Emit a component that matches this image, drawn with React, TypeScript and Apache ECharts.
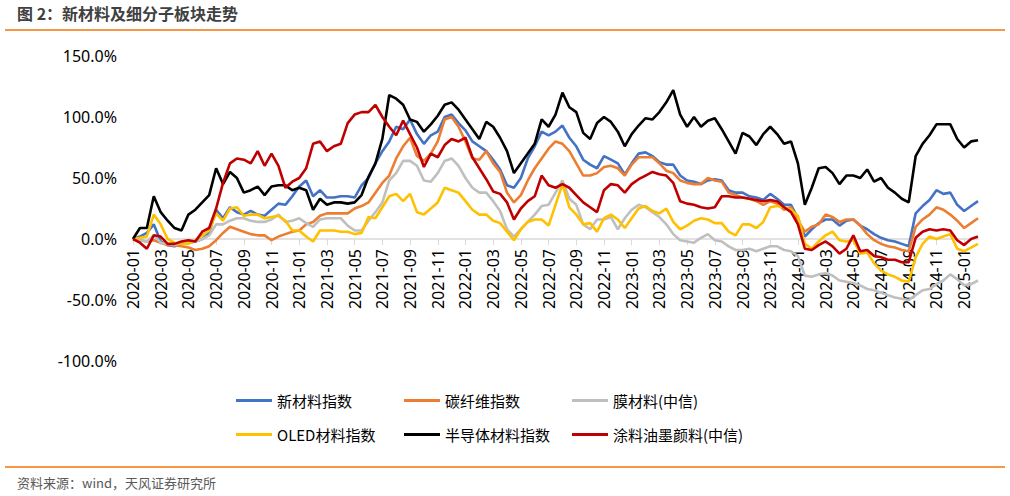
import React, { useEffect, useRef } from "react";
import * as echarts from "echarts";

// semi-monthly sample dates 2020-01-01 .. 2025-02-01
const categories: string[] = [];
for (let i = 0; i < 123; i++) {
  const y = 2020 + Math.floor(i / 24);
  const m = Math.floor((i % 24) / 2) + 1;
  const d = i % 2 === 0 ? "01" : "16";
  categories.push(`${y}-${m < 10 ? "0" + m : m}-${d}`);
}

const seriesNames = ["新材料指数", "碳纤维指数", "膜材料(中信)", "OLED材料指数", "半导体材料指数", "涂料油墨颜料(中信)"];
const seriesColors = ["#4472C4", "#ED7D31", "#BFBFBF", "#FFC000", "#000000", "#C00000"];

const newMaterial = [
  0, 2, 5, 12, -2, -5, -6, -4, -3, -2, 0, 5, 24, 17, 26, 22, 20, 23, 20, 19, 24, 29, 28, 35, 43, 48, 35, 40, 34, 34, 35,
  35, 34, 44, 50, 62, 72, 80, 92, 90, 98, 86, 78, 85, 88, 100, 102, 95, 89, 80, 76, 72, 65, 57, 44, 42, 50, 66, 76, 88, 85, 88,
  93, 83, 76, 65, 61, 58, 68, 65, 62, 53, 62, 70, 71, 68, 63, 61, 61, 52, 48, 47, 45, 48, 49, 48, 40, 38, 38, 35, 34, 32, 37,
  33, 28, 28, 17, 2, 8, 13, 16, 16, 11, 15, 16, 11, 8, 4, 1, -1, -2, -4, -6, 21, 27, 32, 40, 37, 38, 28, 23, 27, 31,
];
const carbonFiber = [
  0, -1, -2, -1, -3, -5, -5, -6, -7, -9, -8, -6, -1, 5, 10, 8, 6, 4, 3, 3, -1, 2, 4, 6, 7, 12, 14, 19, 21, 21, 21,
  21, 25, 27, 30, 38, 46, 52, 66, 76, 83, 68, 64, 70, 80, 98, 100, 92, 80, 66, 65, 72, 62, 55, 38, 30, 36, 48, 58, 66, 74, 80,
  78, 72, 62, 52, 52, 54, 59, 60, 58, 52, 61, 67, 67, 67, 62, 56, 54, 48, 46, 45, 45, 50, 48, 47, 38, 36, 34, 33, 31, 28, 31,
  29, 24, 26, 15, 6, 10, 12, 20, 18, 14, 16, 16, 11, 4, -1, -4, -6, -7, -9, -10, 10, 16, 20, 26, 24, 20, 15, 9, 13, 17,
];
const membrane = [
  0, -1, -2, 3, -3, -4, -5, -3, -3, -2, 0, 3, 12, 12, 15, 17, 17, 15, 14, 14, 16, 20, 14, 15, 17, 13, 10, 16, 17, 17, 17,
  11, 7, 7, 15, 22, 30, 48, 54, 64, 64, 60, 48, 47, 54, 64, 66, 60, 50, 42, 38, 38, 31, 23, 8, 2, 8, 14, 20, 27, 28, 38,
  48, 33, 28, 12, 8, 16, 16, 18, 8, 17, 24, 28, 26, 22, 18, 12, 4, -1, -2, -3, 1, 4, -1, -2, -6, -9, -9, -8, -10, -8, -6,
  -6, -9, -10, -14, -30, -31, -29, -28, -30, -34, -35, -36, -38, -41, -42, -44, -46, -48, -49, -50, -46, -42, -41, -37, -34, -29, -33, -38, -37, -34,
];
const oled = [
  0, 1, 2, 20, 12, 0, -3, -4, -4, -1, 3, 7, 21, 15, 25, 26, 19, 20, 20, 17, 18, 19, 15, 7, 7, 2, -2, 7, 7, 7, 6,
  6, 4, 5, 18, 17, 26, 35, 37, 31, 37, 22, 20, 25, 30, 42, 40, 38, 31, 24, 20, 20, 15, 13, 6, -1, 8, 14, 16, 16, 11, 28,
  45, 26, 20, 12, 13, 6, 17, 20, 16, 9, 17, 25, 27, 23, 21, 25, 14, 8, 11, 15, 17, 16, 13, 13, 6, 3, 12, 12, 9, 14, 26,
  27, 26, 24, 19, -4, -8, -2, 3, 6, -1, -2, -1, -12, -11, -20, -26, -29, -31, -34, -35, -15, -4, 2, 0, 2, 4, -8, -10, -7, -4,
];
const semiconductor = [
  0, 9, 9, 35, 22, 15, 9, 7, 20, 24, 30, 36, 58, 45, 55, 50, 38, 40, 43, 36, 43, 44, 44, 40, 42, 40, 24, 33, 28, 30, 30,
  29, 30, 36, 51, 62, 82, 118, 115, 110, 98, 96, 88, 94, 101, 110, 112, 106, 98, 90, 82, 96, 92, 83, 72, 54, 62, 70, 78, 98, 92, 102,
  120, 108, 104, 87, 82, 95, 100, 96, 88, 76, 86, 93, 99, 98, 104, 112, 122, 102, 92, 100, 92, 97, 99, 90, 80, 70, 87, 84, 77, 86, 92,
  86, 78, 80, 62, 28, 42, 58, 59, 54, 45, 52, 52, 50, 57, 47, 50, 42, 38, 33, 30, 68, 78, 85, 94, 94, 94, 82, 75, 80, 81,
];
const coating = [
  0, -3, -8, 3, 2, -4, -4, -2, -1, -2, 6, 9, 25, 46, 62, 66, 65, 62, 72, 60, 70, 60, 42, 47, 50, 58, 78, 80, 72, 76, 78,
  95, 102, 104, 104, 110, 100, 92, 85, 97, 86, 75, 59, 70, 67, 77, 82, 80, 83, 67, 58, 49, 39, 37, 30, 16, 25, 31, 35, 52, 44, 42,
  45, 42, 36, 30, 26, 22, 40, 45, 44, 38, 45, 49, 52, 55, 53, 52, 46, 31, 29, 28, 26, 25, 26, 35, 35, 34, 34, 33, 32, 31, 32,
  31, 26, 22, 12, -8, -9, -5, -2, -6, -12, -8, 3, -10, -9, -14, -15, -17, -17, -19, -19, 1, 6, 8, 7, 8, 7, -1, -5, 0, 2,
];
const seriesValues = [newMaterial, carbonFiber, membrane, oled, semiconductor, coating];

const yMin = -100;
const yMax = 150;
const yStep = 50;

const titleText = "图 2：新材料及细分子板块走势";
const sourceText = "资料来源：wind，天风证券研究所";

const FONT = "'Noto Sans', 'Noto Sans CJK SC', sans-serif";
const CJK = "'Noto Sans CJK SC', 'Noto Sans', sans-serif";

// legend layout: columns and rows
const legendCols = [236, 404, 572];
const legendRows = [393, 427];

export default function App() {
  const ref = useRef<HTMLDivElement>(null);
  useEffect(() => {
    document.body.style.margin = "0";
    if (!ref.current) return;
    const chart = echarts.init(ref.current, undefined, { renderer: "svg" });
    const labelInterval = (idx: number) => idx % 4 === 0;
    const gridTop = 56;
    const gridBottomPx = 361;
    const plotH = gridBottomPx - gridTop;
    const zeroOffset = -Math.round((plotH * (0 - yMin)) / (yMax - yMin));
    const legends = seriesNames.map((name, i) => ({
      left: legendCols[i % 3],
      top: legendRows[Math.floor(i / 3)],
      icon: "rect",
      itemWidth: 36,
      itemHeight: 3,
      itemGap: 0,
      padding: 0,
      textStyle: { fontFamily: CJK, fontSize: 15, color: "#000" },
      data: [name],
    }));
    chart.setOption({
      animation: false,
      backgroundColor: "#fff",
      grid: { left: 133, right: 32, top: gridTop, bottom: 496 - gridBottomPx, containLabel: false },
      xAxis: {
        type: "category",
        data: categories,
        boundaryGap: false,
        offset: zeroOffset,
        axisLine: { onZero: false, lineStyle: { color: "#D9D9D9", width: 1.5 } },
        axisTick: { show: true, interval: labelInterval, length: 6, lineStyle: { color: "#D9D9D9" } },
        axisLabel: {
          interval: labelInterval,
          rotate: 90,
          margin: 10,
          fontFamily: FONT,
          fontSize: 16,
          color: "#000",
          formatter: (v: string) => v.slice(0, 7),
        },
        splitLine: { show: false },
      },
      yAxis: {
        type: "value",
        min: yMin,
        max: yMax,
        interval: yStep,
        axisLine: { show: false },
        axisTick: { show: false },
        splitLine: { show: false },
        axisLabel: {
          margin: 16,
          fontFamily: FONT,
          fontSize: 16,
          color: "#000",
          formatter: (v: number) => v.toFixed(1) + "%",
        },
      },
      legend: legends,
      series: seriesNames.map((name, i) => ({
        name,
        type: "line",
        data: seriesValues[i],
        symbol: "none",
        smooth: false,
        lineStyle: { color: seriesColors[i], width: 2.6 },
        itemStyle: { color: seriesColors[i] },
      })),
      graphic: [
        {
          type: "text",
          left: 17,
          top: 5,
          style: { text: titleText, font: `bold 16px ${CJK}`, fill: "#404040" },
        },
        {
          type: "line",
          shape: { x1: 5, y1: 30, x2: 1005, y2: 30 },
          style: { stroke: "#F79646", lineWidth: 2 },
        },
        {
          type: "line",
          shape: { x1: 5, y1: 467, x2: 1005, y2: 467 },
          style: { stroke: "#F79646", lineWidth: 2 },
        },
        {
          type: "text",
          left: 17,
          top: 476,
          style: { text: sourceText, font: `13px ${CJK}`, fill: "#595959" },
        },
      ],
    });
    return () => chart.dispose();
  }, []);
  return <div ref={ref} style={{ width: 1010, height: 496 }} />;
}
